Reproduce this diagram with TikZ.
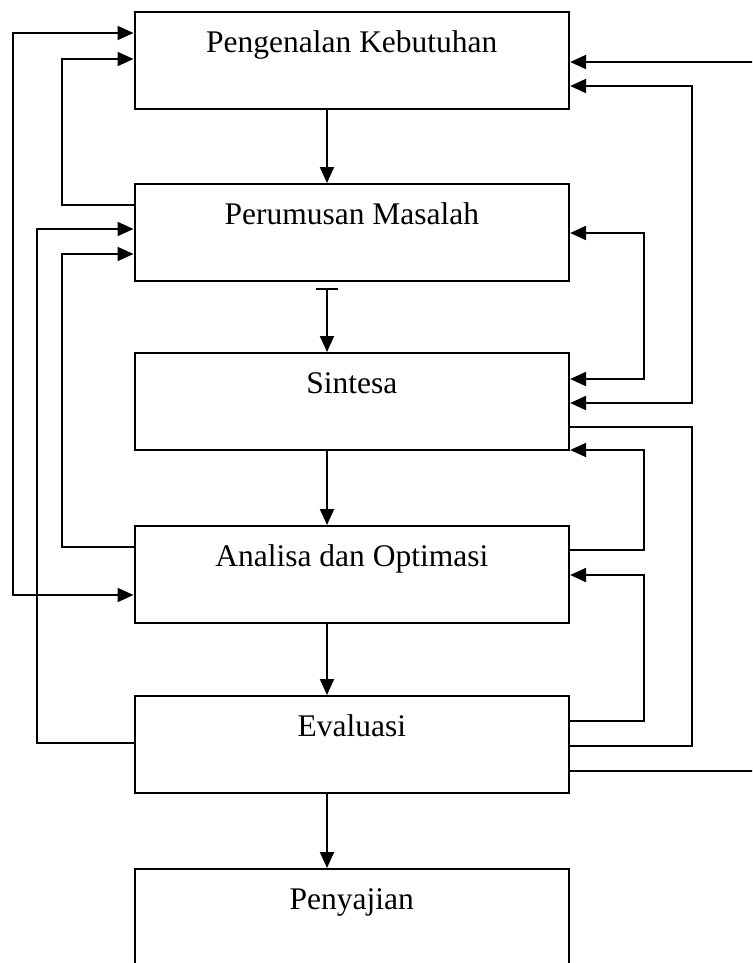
\documentclass[tikz,border=0pt]{standalone}
\usepackage{fontspec}
\setmainfont{Liberation Serif}
\usetikzlibrary{arrows.meta,calc}
\begin{document}
\begin{tikzpicture}[x=1pt,y=-1pt,
  line width=2.1pt,
  box/.style={draw,rectangle,anchor=north west,minimum width=434.5pt,
    inner sep=0pt,text height=40pt,text depth=57pt,
    font=\fontsize{31.5}{36}\selectfont},
  tip/.tip={Triangle[length=16pt,width=14pt]},
  arr/.style={-tip},
  dbl/.style={tip-tip},
  ln/.style={-}]
\useasboundingbox (0,0) rectangle (752,963);
\clip (0,0) rectangle (752,963);
\fill[white] (0,0) rectangle (752,963);
% boxes
\node[box] (b1) at (133.5,11) {Pengenalan Kebutuhan};
\node[box] (b2) at (133.5,183) {Perumusan Masalah};
\node[box] (b3) at (133.5,352) {Sintesa};
\node[box] (b4) at (133.5,525) {Analisa dan Optimasi};
\node[box] (b5) at (133.5,695) {Evaluasi};
\node[box] (b6) at (133.5,868) {Penyajian};
\coordinate (mx) at (327,0);
% central flow
\draw[arr] (b1.south -| mx) -- (b2.north -| mx);
\draw[ln,line width=1.5pt] ($(b2.south -| mx)+(-11,7)$) -- ++(22,0);
\draw[arr] ($(b2.south -| mx)+(0,7)$) -- (b3.north -| mx);
\draw[arr] (b3.south -| mx) -- (b4.north -| mx);
\draw[arr] (b4.south -| mx) -- (b5.north -| mx);
\draw[arr] (b5.south -| mx) -- (b6.north -| mx);
% left side
\draw[dbl] ([yshift=-22pt]b1.north west) -- ++(-120.5,0) |- ([yshift=-70pt]b4.north west);
\draw[arr] ([yshift=-22pt]b2.north west) -- ++(-71.5,0) |- ([yshift=-48pt]b1.north west);
\draw[arr] ([yshift=-48pt]b5.north west) -- ++(-96.5,0) |- ([yshift=-46pt]b2.north west);
\draw[arr] ([yshift=-22pt]b4.north west) -- ++(-71.5,0) |- ([yshift=-71pt]b2.north west);
% right side
\draw[arr] ([yshift=-76pt]b5.north east) -- ++(200,0) |- ([yshift=-51pt]b1.north east);
\draw[dbl] ([yshift=-75pt]b1.north east) -- ++(122,0) |- ([yshift=-51pt]b3.north east);
\draw[dbl] ([yshift=-50pt]b2.north east) -- ++(74,0) |- ([yshift=-27pt]b3.north east);
\draw[ln] ([yshift=-75pt]b3.north east) -- ++(122,0) |- ([yshift=-51pt]b5.north east);
\draw[arr] ([yshift=-25pt]b4.north east) -- ++(74,0) |- ([yshift=-98pt]b3.north east);
\draw[arr] ([yshift=-26pt]b5.north east) -- ++(74,0) |- ([yshift=-50pt]b4.north east);
\end{tikzpicture}
\end{document}
